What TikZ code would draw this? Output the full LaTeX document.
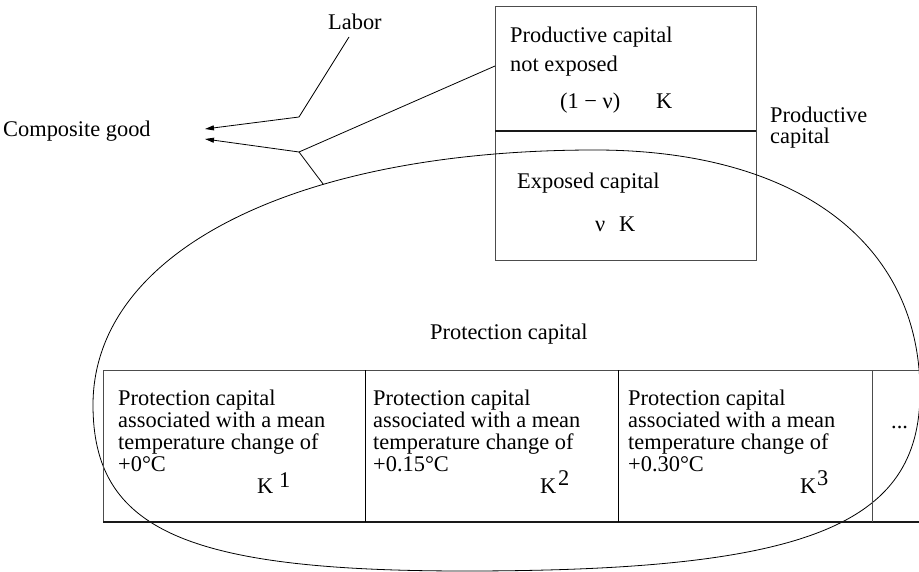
\documentclass[tikz,border=0pt]{standalone}
\usepackage{fontspec}
\setmainfont{Liberation Serif}
\usetikzlibrary{arrows.meta}
\begin{document}
\begin{tikzpicture}[x=1pt,y=-1pt,
  txt/.style={anchor=base west,inner sep=0pt,font=\fontsize{22.4}{22.3}\selectfont},
  boxline/.style={draw=black!70,line width=1pt},
  darkline/.style={draw=black!90,line width=1.2pt},
  thinline/.style={line width=0.8pt},
  arr/.style={thinline,-{Triangle[length=9pt,width=5pt]}}]
\useasboundingbox (0,0) rectangle (919,572);

% productive capital box
\node[boxline,rectangle,minimum width=261pt,minimum height=254pt,inner sep=0pt] (pbox) at (625.5,134) {};
\draw[darkline] (495,131) -- (756,131);
\node[txt] (pc1) at (510,43) {Productive capital};
\node[txt] (pc2) at (510,72) {not exposed};
\node[txt] (pc3) at (560,109) {(1 − ν)};
\node[txt] (pc4) at (656,109) {K};
\node[txt] (ex1) at (517,189) {Exposed capital};
\node[txt] (ex2) at (595,232) {ν};
\node[txt] (ex3) at (619,232) {K};
\node[txt] (pcap) at (770,123) {\vtop{\baselineskip=20.5pt\hbox{Productive}\hbox{capital}}};

% protection capital loop
\draw[thinline] (93,405) .. controls (93,252) and (294,150) .. (595,150)
   coordinate[pos=0.655] (ctouch)
 .. controls (796,150) and (920,242) .. (920,392)
 .. controls (920,526) and (806,571) .. (465,571)
 .. controls (186,571) and (93,530) .. (93,405) -- cycle;
\node[txt] (prot) at (430,340) {Protection capital};

% left labels and connectors
\node[txt] (labor) at (328,30) {Labor};
\node[txt] (comp) at (3,137) {Composite good};
\coordinate (lstart) at (349,37);
\coordinate (lbend) at (299,117);
\coordinate (tip1) at (205,129);
\coordinate (tip2) at (205,139);
\coordinate (junc) at (299,152);
\coordinate (bx) at (495,66);
\draw[arr] (lstart) -- (lbend) -- (tip1);
\draw[arr] (bx) -- (junc) -- (tip2);
\draw[thinline] (junc) -- (ctouch);

% table
\draw[boxline] (919,370) -- (103,370) -- (103,522);
\draw[darkline] (103,522) -- (919,522);
\draw[thinline] (365,370) -- (365,522);
\draw[thinline] (618,370) -- (618,522);
\draw[boxline] (872,370) -- (872,522);

\node[txt] (c1) at (118,405) {\vtop{\hbox{Protection capital}\hbox{associated with a mean}\hbox{temperature change of}\hbox{+0°C}}};
\node[txt] (c2) at (373,405) {\vtop{\hbox{Protection capital}\hbox{associated with a mean}\hbox{temperature change of}\hbox{+0.15°C}}};
\node[txt] (c3) at (628,405) {\vtop{\hbox{Protection capital}\hbox{associated with a mean}\hbox{temperature change of}\hbox{+0.30°C}}};
\node[txt] (dots) at (891,428) {...};

\node[txt] (k1) at (257,493) {K};
\node[txt] (s1) at (279,487) {1};
\node[txt] (k2) at (540,493) {K};
\node[txt] (s2) at (558,485) {2};
\node[txt] (k3) at (800,493) {K};
\node[txt] (s3) at (817,485) {3};
\end{tikzpicture}
\end{document}
